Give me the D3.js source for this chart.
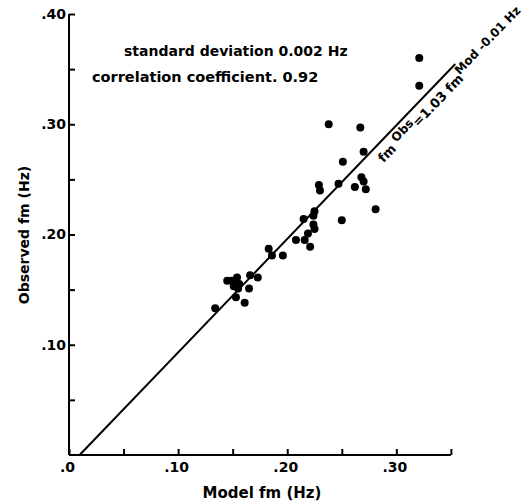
<!DOCTYPE html>
<html>
<head>
<meta charset="utf-8">
<script src="https://cdn.jsdelivr.net/npm/d3@7"></script>
<style>
  body { margin: 0; background: #fff; }
  svg text { font-family: "DejaVu Sans", sans-serif; font-weight: bold; fill: #000; }
  .axis path, .axis line { stroke: #000; stroke-width: 2; }
</style>
</head>
<body>
<div id="chart"></div>
<script>
// Data
let modelFm = [
  0.321, 0.321, 0.238, 0.267, 0.270, 0.251, 0.229, 0.230, 0.247, 0.262,
  0.268, 0.270, 0.272, 0.281, 0.250, 0.225, 0.224, 0.215, 0.224, 0.225,
  0.219, 0.216, 0.208, 0.221, 0.196, 0.186, 0.183, 0.173, 0.166, 0.165,
  0.161, 0.153, 0.134, 0.145, 0.149, 0.154, 0.156, 0.151, 0.155, 0.152
];
let observedFm = [
  0.360, 0.335, 0.300, 0.297, 0.275, 0.266, 0.245, 0.240, 0.246, 0.243,
  0.252, 0.248, 0.241, 0.223, 0.213, 0.221, 0.217, 0.214, 0.209, 0.205,
  0.201, 0.195, 0.195, 0.189, 0.181, 0.181, 0.187, 0.161, 0.163, 0.151,
  0.138, 0.143, 0.133, 0.158, 0.158, 0.161, 0.155, 0.153, 0.151, 0.156
];
let xTicks = [0, 0.05, 0.10, 0.15, 0.20, 0.25, 0.30, 0.35];
let yTicks = [0.05, 0.10, 0.15, 0.20, 0.25, 0.30, 0.35, 0.40];
let xLabels = ['.0', '', '.10', '', '.20', '', '.30', ''];
let yLabels = ['', '.10', '', '.20', '', '.30', '', '.40'];

// fit: fm Obs = 1.03 fm Mod - 0.01
let slope = 1.03;
let intercept = -0.01;
let lineEnd = 0.354;

let svgWidth = 531;
let svgHeight = 503;

let svg = d3.select('#chart').append('svg')
  .attr('width', svgWidth)
  .attr('height', svgHeight);

// scales
let x = d3.scaleLinear().domain([0, 0.35]).range([69, 450.9]);
let y = d3.scaleLinear().domain([0, 0.40]).range([455, 14]);

// x axis, ticks pointing up
let xAxis = svg.append('g')
  .classed('axis', true)
  .attr('transform', `translate(0, ${y(0)})`)
  .call(d3.axisBottom(x)
    .tickValues(xTicks)
    .tickSizeInner(-6)
    .tickSizeOuter(0)
    .tickPadding(7)
    .tickFormat((d, i) => xLabels[i]));
xAxis.selectAll('text')
  .attr('font-size', '14px')
  .attr('dx', '-2');

// y axis, ticks pointing right
let yAxis = svg.append('g')
  .classed('axis', true)
  .attr('transform', `translate(${x(0)}, 0)`)
  .call(d3.axisLeft(y)
    .tickValues(yTicks)
    .tickSizeInner(-6)
    .tickSizeOuter(0)
    .tickPadding(3)
    .tickFormat((d, i) => yLabels[i]));
yAxis.selectAll('text')
  .attr('font-size', '14px');
// axis lines span the full frame
yAxis.select('.domain').attr('d', `M0,${y(0)}V${y(0.40)}`);
xAxis.select('.domain').attr('d', `M${x(0)},0H${x(0.35)}`);

// regression line
let x0 = -intercept / slope;
svg.append('line')
  .attr('x1', x(x0))
  .attr('y1', y(0))
  .attr('x2', x(lineEnd))
  .attr('y2', y(slope * lineEnd + intercept))
  .attr('stroke', '#000')
  .attr('stroke-width', 2);

// points
svg.append('g').selectAll('circle')
  .data(modelFm)
  .enter()
  .append('circle')
  .attr('cx', d => x(d))
  .attr('cy', (d, i) => y(observedFm[i]))
  .attr('r', 4)
  .attr('fill', '#000');

// equation along the line
let angle = Math.atan2(y(0) - y(slope), x(1) - x(0)) * 180 / Math.PI;
let tStart = 0.277;
let eq = svg.append('text')
  .attr('transform', `translate(${x(tStart)}, ${y(slope * tStart + intercept)}) rotate(${-angle})`)
  .attr('y', 17)
  .attr('font-size', '13px');
eq.append('tspan').text('fm ');
eq.append('tspan').attr('dy', -5).attr('font-size', '12px').text('Obs');
eq.append('tspan').attr('dy', 5).text('=1.03 fm');
eq.append('tspan').attr('dy', -6).attr('font-size', '12px').text('Mod -0.01 Hz');

// stats
svg.append('text')
  .attr('x', 124)
  .attr('y', 56)
  .attr('font-size', '14px')
  .text('standard deviation 0.002 Hz');
svg.append('text')
  .attr('x', 92)
  .attr('y', 82)
  .attr('font-size', '14.5px')
  .text('correlation coefficient. 0.92');

// axis titles
svg.append('text')
  .attr('x', 262)
  .attr('y', 498)
  .attr('text-anchor', 'middle')
  .attr('font-size', '15px')
  .text('Model fm (Hz)');
svg.append('text')
  .attr('transform', `translate(29, 235) rotate(-90)`)
  .attr('text-anchor', 'middle')
  .attr('font-size', '14px')
  .text('Observed fm (Hz)');
</script>
</body>
</html>
